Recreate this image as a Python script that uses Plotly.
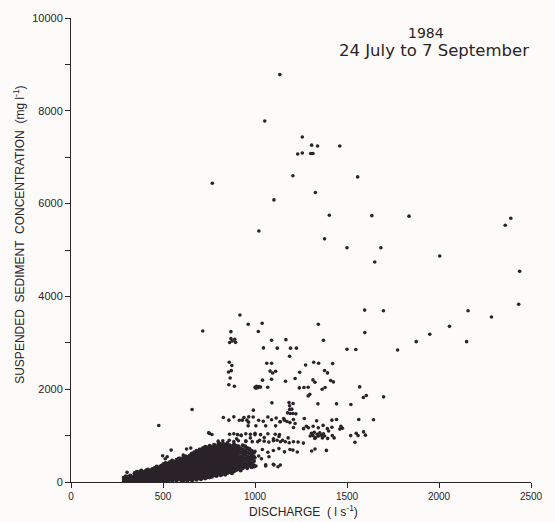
import plotly.graph_objects as go

# ---- data (discharge l/s, concentration mg/l) ----
# dense low-discharge cloud: discharge column -> concentrations
cloud_q = [288, 298, 310, 322, 334, 346, 358, 370, 382, 394, 406, 418, 430, 442, 454, 466,
           478, 490, 502, 514, 526, 538, 550, 562, 574, 586, 598, 610, 622, 634, 646, 658,
           670, 682, 694, 706, 718, 730, 742, 754, 766, 778, 790, 802, 814, 826, 838, 850,
           862, 874, 886, 898, 910, 922, 934, 946, 958, 970, 982, 994]
cloud_c = [
    [15, 55, 95], [5, 40, 80, 120], [25, 70, 110], [0, 45, 90, 140], [15, 60, 105],
    [30, 85, 150, 190], [5, 55, 115, 175, 220], [35, 95, 160, 210], [10, 70, 130, 185, 245],
    [40, 100, 155, 215], [0, 60, 120, 180, 235], [25, 85, 145, 205, 265], [10, 65, 125, 190, 245],
    [35, 95, 160, 220, 280], [5, 60, 120, 180, 240, 300], [25, 85, 150, 210, 270, 330],
    [10, 70, 130, 195, 255, 315], [40, 100, 160, 225, 285, 350], [15, 75, 135, 200, 260, 320, 385],
    [45, 105, 170, 230, 290, 355, 410], [20, 80, 140, 205, 265, 330, 395],
    [55, 115, 175, 240, 300, 365, 430], [30, 90, 150, 215, 275, 340, 400, 460],
    [60, 120, 185, 245, 310, 370, 435], [35, 95, 160, 220, 285, 345, 410, 475],
    [70, 130, 195, 255, 320, 380, 445, 505], [45, 105, 170, 230, 295, 355, 420, 480],
    [30, 80, 140, 205, 265, 330, 390, 455, 520], [55, 115, 180, 240, 305, 365, 430, 495, 555],
    [40, 90, 150, 215, 275, 340, 400, 465, 530], [65, 125, 190, 250, 315, 375, 440, 505, 570],
    [40, 100, 160, 225, 285, 350, 410, 475, 540, 600], [75, 135, 200, 260, 325, 385, 450, 515, 580, 640],
    [50, 110, 170, 235, 295, 360, 420, 485, 550, 615, 670], [85, 145, 210, 270, 335, 395, 460, 525, 590, 650],
    [60, 120, 180, 245, 305, 370, 430, 495, 560, 625, 700], [95, 155, 220, 280, 345, 405, 470, 535, 600, 665, 730],
    [80, 130, 190, 255, 315, 380, 440, 505, 570, 635, 700, 760], [105, 165, 230, 290, 355, 415, 480, 545, 610, 675, 740],
    [100, 140, 200, 265, 325, 390, 450, 515, 580, 645, 710, 780], [115, 175, 240, 300, 365, 425, 490, 555, 620, 690, 750],
    [150, 210, 275, 335, 400, 460, 525, 590, 655, 720, 800], [130, 190, 250, 315, 375, 440, 500, 565, 630, 700, 770],
    [165, 225, 290, 350, 415, 475, 540, 605, 670, 740, 820], [145, 205, 270, 330, 395, 455, 520, 585, 650, 720, 790],
    [180, 240, 305, 365, 430, 490, 555, 620, 690, 760, 830], [160, 220, 285, 345, 410, 470, 535, 600, 665, 735, 800],
    [195, 255, 320, 380, 445, 505, 570, 635, 705, 775, 840], [215, 275, 340, 400, 465, 525, 590, 655, 720, 790],
    [190, 250, 315, 375, 440, 500, 565, 630, 700, 770], [230, 290, 355, 415, 480, 540, 605, 670, 745, 810],
    [260, 320, 385, 445, 510, 575, 640, 710, 780], [285, 350, 420, 490, 560, 630, 700, 770],
    [250, 330, 410, 480, 555, 640, 720], [300, 380, 460, 540, 620, 700, 790],
    [330, 410, 500, 590, 680, 770], [300, 380, 460, 550, 640, 730], [350, 430, 520, 610, 700],
    [320, 400, 490, 580, 670], [360, 450, 540, 630],
]

# individually read scattered points
scatter_q = [
    1135, 1053, 1257, 1308, 1340, 1461, 1232, 1257, 1303, 1315, 1206, 768, 1558, 1328, 1103,
    1404, 1635, 1837, 2360, 2390, 1021, 1378, 1500, 1684, 1651, 2004, 2438,
    918, 963, 1039, 1018, 716, 869, 869, 890, 876, 862, 894, 1090, 1168, 1046, 1121, 1193,
    1225, 1188, 1344, 1372, 1596, 1698, 1597, 1500, 1548, 1775, 1876, 1950, 2057, 2158, 2150,
    2285, 2433,
    860, 874, 871, 856, 865, 858, 888,
    1064, 1090, 1082, 1096, 1112, 1041, 1090, 1166, 1218, 1243, 1275, 1319, 1346, 1422, 1378,
    1394, 1315, 1326, 1411, 1426,
    1000, 1008, 1015, 1022, 1030, 1005,
    1069, 1241, 1266, 1289, 1289, 1298, 1365, 1381, 1569, 1589, 1605, 1699, 1092, 1342, 1443, 1521,
    1185, 1207, 1188, 1200, 1188, 1177, 1206, 1191, 1222,
    991, 658, 477,
    1156, 1174, 1138, 1209, 1218, 1209, 1268, 1335, 1418, 1443, 1564, 1644,
    1316, 1279, 1264, 1290, 1344, 1370, 1393, 1418, 1467, 1475, 1461,
    1307, 1315, 1322, 1330, 1338, 1345, 1352, 1360, 1366, 1372, 1378, 1325, 1300,
    1400, 1420, 1430, 1395, 1520, 1550, 1560, 1600, 1590,
    1543, 1138, 1165, 1186, 1209, 1234, 1263, 1206, 1230, 1308, 1326, 1388, 1138,
    900, 915, 940, 960, 980, 1000, 1020, 1035, 1058, 1100, 1125,
    915, 940, 965, 990, 1020, 1045, 1070, 1090, 1115, 1135, 1160, 1190,
    900, 925, 950, 975, 1000, 1025, 1050, 1075, 1100, 1130, 1150, 1180,
    910, 940, 970, 1000, 1040, 1070, 1100, 1130, 1160, 1190,
    828, 858, 885, 931, 956, 966,
    963, 1005, 1058, 1112,
    862, 885, 905, 925, 950, 975, 1000, 1030, 1070, 1110, 1133,
    800, 825, 860, 885, 910, 950, 985, 1015, 1050, 1100, 1120,
    752, 766, 748, 807,
    544, 498, 512, 523, 628, 651, 656, 610, 594, 629, 615, 677, 698, 704,
    305, 369, 381, 402, 410, 399, 447, 465, 477,
    934, 970, 1005, 1058, 1103, 934, 970, 996, 1076,
]
scatter_c = [
    8780, 7780, 7435, 7260, 7240, 7240, 7070, 7090, 7080, 7080, 6600, 6440, 6575, 6240, 6080,
    5750, 5740, 5730, 5535, 5685, 5410, 5240, 5050, 5050, 4740, 4870, 4540,
    3600, 3400, 3420, 3245, 3255, 3240, 3090, 3075, 3040, 3005, 3010, 3055, 3068, 2890, 2885, 2885,
    2885, 2710, 3400, 3055, 3705, 3690, 3220, 2860, 2855, 2845, 3025, 3185, 3355, 3690, 3025,
    3555, 3830,
    2580, 2510, 2400, 2370, 2240, 2095, 2065,
    2560, 2560, 2390, 2350, 2387, 2195, 2215, 2172, 2229, 2366, 2523, 2581, 2559, 2552, 2402,
    2351, 2200, 2150, 2187, 2157,
    2040, 2060, 2030, 2055, 2045, 2020,
    2043, 2028, 2036, 2043, 1856, 1892, 2000, 2036, 2050, 1821, 1864, 1835, 1706, 1684, 1684, 1671,
    1714, 1692, 1641, 1570, 1563, 1490, 1477, 1477, 1469,
    1548, 1563, 1219,
    1370, 1305, 1297, 1348, 1262, 1176, 1370, 1318, 1333, 1348, 1348, 1340,
    1200, 1200, 1150, 1170, 1170, 1220, 1150, 1180, 1200, 1160, 1140,
    1050, 1000, 1070, 960, 1030, 990, 1060, 1010, 950, 1040, 990, 940, 990,
    1100, 1000, 950, 940, 1000, 1050, 1000, 1010, 1080,
    854, 867, 867, 845, 867, 860, 838, 688, 645, 667, 710, 681, 366,
    560, 520, 600, 480, 540, 520, 560, 500, 370, 380, 330,
    1330, 1390, 1290, 1400, 1330, 1310, 1400, 1340, 1380, 1300, 1330, 1280,
    930, 1000, 880, 950, 1020, 900, 960, 860, 930, 980, 900, 950,
    700, 640, 720, 660, 700, 640, 680, 720, 650, 700,
    1391, 1333, 1404, 1333, 1333, 1404,
    1210, 1210, 1210, 1210,
    1030, 1040, 1020, 1010, 1040, 1030, 1050, 1020, 1040, 1030, 1020,
    880, 890, 900, 870, 890, 880, 870, 870, 880, 890, 900,
    1047, 1025, 1060, 832,
    688, 566, 501, 544, 710, 731, 617, 581, 510, 538, 437, 544, 703, 617,
    208, 208, 240, 201, 258, 150, 222, 258, 222,
    344, 387, 344, 344, 366, 366, 402, 330, 544,
]

x_ticks = [0, 500, 1000, 1500, 2000, 2500]
y_ticks = [0, 1000, 2000, 3000, 4000, 5000, 6000, 7000, 8000, 9000, 10000]
y_tick_text = ["0", "", "2000", "", "4000", "", "6000", "", "8000", "", "10000"]

# ---- build ----
blob_q = [q for q, cs in zip(cloud_q, cloud_c) for _ in cs]
blob_c = [c for cs in cloud_c for c in cs]

ink = "#2a2327"
bg = "#fcfbf9"
font_main = "Liberation Sans, Arial, sans-serif"

fig = go.Figure()
fig.add_trace(go.Scatter(
    x=blob_q, y=blob_c, mode="markers",
    marker=dict(size=4.2, color=ink, line=dict(width=0)),
    showlegend=False, hoverinfo="x+y",
))
fig.add_trace(go.Scatter(
    x=scatter_q, y=scatter_c, mode="markers",
    marker=dict(size=3.6, color=ink, line=dict(width=0)),
    showlegend=False, hoverinfo="x+y",
))

axis_common = dict(
    showgrid=False, zeroline=False, showline=True, linecolor=ink, linewidth=1,
    ticks="outside", tickcolor=ink, tickwidth=1, ticklen=5,
)
fig.update_xaxes(range=[0, 2500], tickvals=x_ticks, ticktext=[str(v) for v in x_ticks],
                 tickfont=dict(family=font_main, size=10, color=ink), **axis_common)
fig.update_yaxes(range=[0, 10000], tickvals=y_ticks, ticktext=y_tick_text,
                 tickfont=dict(family=font_main, size=11, color=ink), **axis_common)

fig.add_annotation(xref="paper", yref="paper", x=-0.1128, y=0.533, textangle=-90,
                   text="SUSPENDED  SEDIMENT  CONCENTRATION  (mg l<sup>-1</sup>)",
                   showarrow=False, xanchor="center", yanchor="middle",
                   font=dict(family=font_main, size=12, color=ink))
fig.add_annotation(xref="paper", yref="paper", x=0.506, y=-0.062,
                   text="DISCHARGE  ( l s<sup>-1</sup>)",
                   showarrow=False, xanchor="center", yanchor="middle",
                   font=dict(family=font_main, size=12, color=ink))
fig.add_annotation(xref="paper", yref="paper", x=0.772, y=0.968, text="1984",
                   showarrow=False, xanchor="center", yanchor="middle",
                   font=dict(family="DejaVu Sans, sans-serif", size=14, color=ink))
fig.add_annotation(xref="paper", yref="paper", x=0.789, y=0.929, text="24 July to 7 September",
                   showarrow=False, xanchor="center", yanchor="middle",
                   font=dict(family="DejaVu Sans, sans-serif", size=16.5, color=ink))

fig.update_layout(
    width=555, height=522,
    margin=dict(l=71, r=14, t=17, b=40),
    paper_bgcolor=bg, plot_bgcolor=bg,
)

fig.write_html("out.html")
